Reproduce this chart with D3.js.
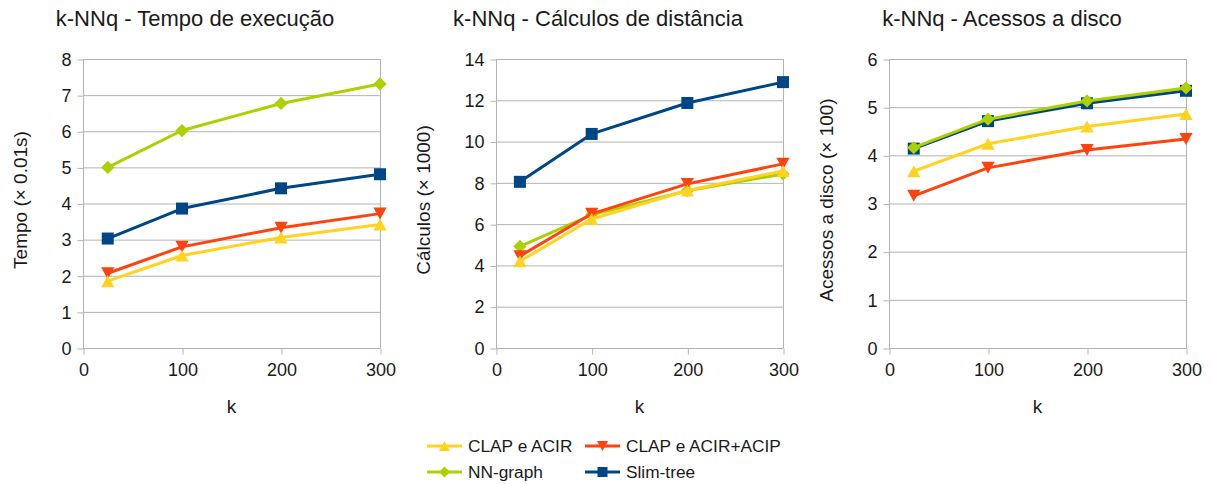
<!DOCTYPE html>
<html>
<head>
<meta charset="utf-8">
<script src="https://cdn.jsdelivr.net/npm/d3@7"></script>
<style>
  body { margin: 0; background: #fff; }
  svg { display: block; font-family: "Liberation Sans", Arial, sans-serif; }
</style>
</head>
<body>
<svg id="chart" width="1211" height="484"></svg>
<script>
// k values (x axis) shared by all three panels
const kValues = [25, 100, 200, 300];
const xTicks = [0, 100, 200, 300];

const seriesNames = ["CLAP e ACIR", "CLAP e ACIR+ACIP", "NN-graph", "Slim-tree"];

// Execution time (× 0.01s)
const tempoClap      = [1.85, 2.56, 3.06, 3.42];
const tempoClapAcip  = [2.07, 2.80, 3.33, 3.72];
const tempoNNgraph   = [5.00, 6.02, 6.77, 7.31];
const tempoSlim      = [3.03, 3.86, 4.42, 4.81];

// Distance computations (× 1000)
const calcClap       = [4.20, 6.25, 7.63, 8.58];
const calcClapAcip   = [4.45, 6.50, 7.95, 8.92];
const calcNNgraph    = [4.92, 6.45, 7.62, 8.43];
const calcSlim       = [8.05, 10.37, 11.87, 12.88];

// Disk accesses (× 100)
const discoClap      = [3.67, 4.24, 4.60, 4.86];
const discoClapAcip  = [3.16, 3.74, 4.11, 4.34];
const discoNNgraph   = [4.16, 4.75, 5.13, 5.40];
const discoSlim      = [4.14, 4.71, 5.08, 5.34];

const yTicksTempo = [0, 1, 2, 3, 4, 5, 6, 7, 8];
const yTicksCalc  = [0, 2, 4, 6, 8, 10, 12, 14];
const yTicksDisco = [0, 1, 2, 3, 4, 5, 6];

const colors  = ["#ffd320", "#ff420e", "#aecf00", "#004586"];
const symbols = ["up", "down", "diamond", "square"];

const panels = [
  { title: "k-NNq - Tempo de execução", yLabel: "Tempo (× 0.01s)", yTicks: yTicksTempo,
    series: [tempoClap, tempoClapAcip, tempoNNgraph, tempoSlim],
    left: 83, right: 380, titleX: 195, yLabelX: 27 },
  { title: "k-NNq - Cálculos de distância", yLabel: "Cálculos (× 1000)", yTicks: yTicksCalc,
    series: [calcClap, calcClapAcip, calcNNgraph, calcSlim],
    left: 496, right: 783, titleX: 598, yLabelX: 430 },
  { title: "k-NNq - Acessos a disco", yLabel: "Acessos a disco (× 100)", yTicks: yTicksDisco,
    series: [discoClap, discoClapAcip, discoNNgraph, discoSlim],
    left: 889, right: 1186, titleX: 1002, yLabelX: 833 }
];

// draw order: Slim-tree first, then the others on top (green over blue in disk panel)
const drawOrder = [3, 2, 1, 0];

const svg = d3.select("#chart");
const plotTop = 59, plotBottom = 348;
const grid = "#b3b3b3";
const textColor = "#1a1a1a";

function marker(g, type, x, y, color, s) {
  if (type === "square") {
    g.append("rect").attr("x", x - s / 2).attr("y", y - s / 2)
      .attr("width", s).attr("height", s).attr("fill", color);
  } else if (type === "diamond") {
    const h = s * 0.55;
    g.append("path").attr("d", `M${x},${y - h}L${x + h},${y}L${x},${y + h}L${x - h},${y}Z`)
      .attr("fill", color);
  } else if (type === "up") {
    const h = s * 0.5;
    g.append("path").attr("d", `M${x},${y - h}L${x + h * 1.1},${y + h}L${x - h * 1.1},${y + h}Z`)
      .attr("fill", color);
  } else if (type === "down") {
    const h = s * 0.5;
    g.append("path").attr("d", `M${x},${y + h}L${x + h * 1.1},${y - h}L${x - h * 1.1},${y - h}Z`)
      .attr("fill", color);
  }
}

panels.forEach(p => {
  const x = d3.scaleLinear().domain([0, 300]).range([p.left, p.right]);
  const yMax = p.yTicks[p.yTicks.length - 1];
  const y = d3.scaleLinear().domain([0, yMax]).range([plotBottom, plotTop]);
  const g = svg.append("g");

  // horizontal grid
  g.append("g").selectAll("line").data(p.yTicks).join("line")
    .attr("x1", p.left).attr("x2", p.right)
    .attr("y1", d => y(d) + 0.5).attr("y2", d => y(d) + 0.5)
    .attr("stroke", grid).attr("stroke-width", 1);
  // right border
  g.append("line").attr("x1", p.right + 0.5).attr("x2", p.right + 0.5)
    .attr("y1", plotTop).attr("y2", plotBottom).attr("stroke", grid);

  // y axis
  const yAxis = d3.axisLeft(y).tickValues(p.yTicks).tickSize(6).tickPadding(6).tickFormat(d3.format("d"));
  const ya = g.append("g").attr("transform", `translate(${p.left + 0.5},0.5)`).call(yAxis);
  ya.select(".domain").attr("stroke", grid).attr("d", `M0,${plotTop}V${plotBottom}`);
  ya.selectAll(".tick line").attr("stroke", grid);
  ya.selectAll(".tick text").attr("fill", textColor).style("font-size", "18px")
    .style("font-family", "Liberation Sans, Arial, sans-serif");

  // x axis
  const xAxis = d3.axisBottom(x).tickValues(xTicks).tickSize(6).tickPadding(9).tickFormat(d3.format("d"));
  const xa = g.append("g").attr("transform", `translate(0.5,${plotBottom + 0.5})`).call(xAxis);
  xa.select(".domain").attr("stroke", grid).attr("d", `M${p.left},0H${p.right}`);
  xa.selectAll(".tick line").attr("stroke", grid);
  xa.selectAll(".tick text").attr("fill", textColor).style("font-size", "18px")
    .style("font-family", "Liberation Sans, Arial, sans-serif");

  // series lines and markers
  const line = d3.line().x((d, i) => x(kValues[i])).y(d => y(d));
  drawOrder.forEach(si => {
    g.append("path").datum(p.series[si]).attr("d", line)
      .attr("fill", "none").attr("stroke", colors[si]).attr("stroke-width", 3)
      .attr("stroke-linejoin", "round");
    const mg = g.append("g");
    p.series[si].forEach((v, i) => marker(mg, symbols[si], x(kValues[i]), y(v), colors[si], 12));
  });

  // titles
  svg.append("text").attr("x", p.titleX).attr("y", 26).attr("text-anchor", "middle")
    .attr("fill", textColor).style("font-size", "22px").text(p.title);
  svg.append("text").attr("x", (p.left + p.right) / 2).attr("y", 413).attr("text-anchor", "middle")
    .attr("fill", textColor).style("font-size", "19px").text("k");
  svg.append("text").attr("transform", `translate(${p.yLabelX},${200}) rotate(-90)`)
    .attr("text-anchor", "middle").attr("fill", textColor).style("font-size", "19px").text(p.yLabel);
});

// legend
const legendItems = [
  { i: 0, lx: 427, ly: 446 },
  { i: 1, lx: 585, ly: 446 },
  { i: 2, lx: 427, ly: 472 },
  { i: 3, lx: 585, ly: 472 }
];
const lg = svg.append("g");
legendItems.forEach(it => {
  lg.append("line").attr("x1", it.lx).attr("x2", it.lx + 35)
    .attr("y1", it.ly).attr("y2", it.ly).attr("stroke", colors[it.i]).attr("stroke-width", 3);
  marker(lg, symbols[it.i], it.lx + 17.5, it.ly, colors[it.i], 10);
  lg.append("text").attr("x", it.lx + 41).attr("y", it.ly + 6)
    .attr("fill", textColor).style("font-size", "17.3px").text(seriesNames[it.i]);
});
</script>
</body>
</html>
